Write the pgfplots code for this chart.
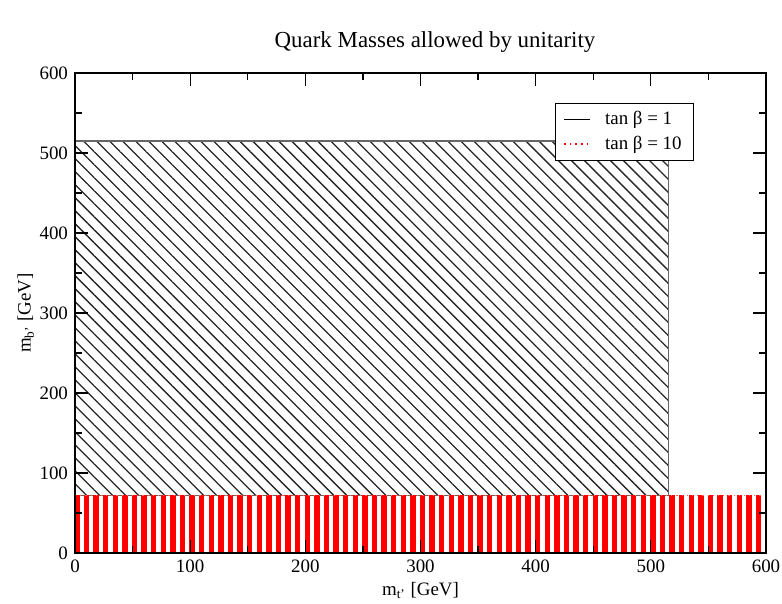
\documentclass[border=0pt]{standalone}
\usepackage{pgfplots}
\pgfplotsset{compat=1.18}
\usepackage{fontspec}
\setmainfont{Liberation Serif}
\usetikzlibrary{patterns.meta}

\begin{document}
\begin{tikzpicture}
\begin{axis}[
    scale only axis,
    width=345.5bp, height=240bp,
    xmin=0, xmax=600, ymin=0, ymax=600,
    xtick={0,100,...,600}, ytick={0,100,...,600},
    minor tick num=1,
    tick align=inside,
    major tick length=6.5bp, minor tick length=3.5bp,
    every tick/.style={black, line width=0.6bp},
    axis line style={line width=0.9bp},
    axis on top,
    font=\fontsize{9.5}{11}\selectfont,
    /pgf/number format/assume math mode=true,
    tick label style={font=\fontsize{9.5}{11}\selectfont},
    xlabel={m\textsubscript{t'} [GeV]},
    ylabel={m\textsubscript{b'} [GeV]},
    xlabel style={yshift=2bp},
    ylabel style={yshift=-4bp},
    title={Quark Masses allowed by unitarity},
    title style={at={(0.521,1.073)}, anchor=center, yshift=-8bp,
        font=\fontsize{11.5}{13}\selectfont},
    legend style={at={(0.896,0.9375)}, anchor=north east, draw=black,
        line width=0.5bp, font=\fontsize{9.5}{11}\selectfont,
        inner xsep=4bp, inner ysep=2bp, row sep=0bp,
        /tikz/every odd column/.append style={column sep=5bp}},
    legend cell align=left,
    legend image code/.code={\draw[#1] (0bp,0bp) -- (13bp,0bp);},
]
% hatched region: tan beta = 1
\addplot[draw=black!60, line width=0.6bp,
    pattern={Lines[angle=-45,distance=4.6bp,line width=0.65bp]},
    pattern color=black!85, forget plot]
    coordinates {(0,72) (0,515) (515,515) (515,72)} -- cycle;
% red region: tan beta = 10
\addplot[draw=none,
    pattern={Lines[angle=90,distance=4.8bp,line width=2.7bp]},
    pattern color=red, forget plot]
    coordinates {(0,0) (0,72) (600,72) (600,0)} -- cycle;
\addplot[red!60, dotted, line width=0.6bp, forget plot]
    coordinates {(0,72) (600,72)};
\addlegendimage{color=black, line width=0.5bp}
\addlegendentry{tan β = 1}
\addlegendimage{color=red, dotted, line width=0.8bp}
\addlegendentry{tan β = 10}
\end{axis}
\pgfresetboundingbox
\path ([xshift=-37.5bp,yshift=-25.5bp]current axis.south west)
    rectangle ([xshift=8bp,yshift=36.5bp]current axis.north east);
\end{tikzpicture}
\end{document}
